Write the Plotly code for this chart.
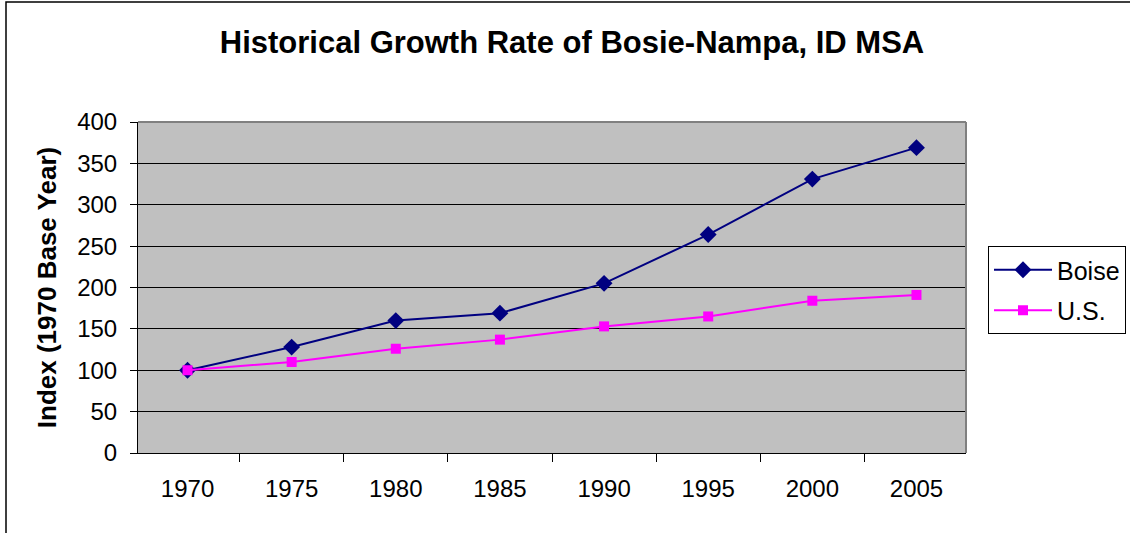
import plotly.graph_objects as go

years = ["1970", "1975", "1980", "1985", "1990", "1995", "2000", "2005"]
boise = [100, 128, 160, 169, 205, 264, 331, 369]
us = [100, 110, 126, 137, 153, 165, 184, 191]
y_ticks = [0, 50, 100, 150, 200, 250, 300, 350, 400]

FONT = "Liberation Sans, Arial, sans-serif"

fig = go.Figure()
fig.add_trace(go.Scatter(
    x=years, y=boise, name="Boise", mode="lines+markers",
    line=dict(color="#000080", width=2),
    marker=dict(symbol="diamond", size=13, color="#000080"),
    legendgroup="a",
))
fig.add_trace(go.Scatter(
    x=years, y=us, name="U.S.", mode="lines+markers",
    line=dict(color="#FF00FF", width=2),
    marker=dict(symbol="square", size=10, color="#FF00FF"),
    legendgroup="b",
))

L, R, T, B = 138, 164, 122, 80
W, H = 1130, 533
pw, ph = W - L - R, H - T - B

fig.update_layout(
    width=W, height=H,
    margin=dict(l=L, r=R, t=T, b=B, autoexpand=False),
    paper_bgcolor="white",
    plot_bgcolor="#C0C0C0",
    font=dict(family=FONT, size=24, color="black"),
    title=dict(
        text="<b>Historical Growth Rate of Bosie-Nampa, ID MSA</b>",
        x=572 / W, xanchor="center", y=1 - 42 / H, yanchor="middle",
        font=dict(size=31, family=FONT, color="black"),
    ),
    xaxis=dict(
        type="category", tickson="boundaries", showgrid=False,
        ticks="outside", ticklen=8, tickcolor="black", tickwidth=1,
        showline=True, linecolor="black", linewidth=1,
        ticklabelstandoff=14,
        tickfont=dict(size=24),
    ),
    yaxis=dict(
        range=[0, 400], tickvals=y_ticks,
        showgrid=True, gridcolor="black", gridwidth=1,
        ticks="outside", ticklen=7, tickcolor="black",
        showline=True, linecolor="black", linewidth=1,
        zeroline=False, ticklabelstandoff=8,
        tickfont=dict(size=24),
        title=dict(text="<b>Index (1970 Base Year)</b>", standoff=13,
                   font=dict(size=26)),
    ),
    legend=dict(
        x=(988 - L) / pw, xanchor="left",
        y=(H - B - 246) / ph, yanchor="top",
        bordercolor="black", borderwidth=1, bgcolor="white",
        font=dict(size=25), itemwidth=58, tracegroupgap=5,
        traceorder="grouped",
    ),
    shapes=[
        dict(type="line", xref="paper", yref="paper", x0=0, x1=1, y0=1, y1=1,
             line=dict(color="#808080", width=2)),
        dict(type="line", xref="paper", yref="paper", x0=1, x1=1, y0=0, y1=1,
             line=dict(color="#808080", width=2)),
        dict(type="rect", xref="paper", yref="paper",
             x0=(6 - L) / pw, x1=(W + 20 - L) / pw,
             y0=(H - B - (H + 20)) / ph, y1=(H - B - 2) / ph,
             line=dict(color="black", width=1.5), layer="below"),
    ],
)

fig.write_html("out.html", config={"displayModeBar": False},
               post_script="document.body.style.margin='0';")
